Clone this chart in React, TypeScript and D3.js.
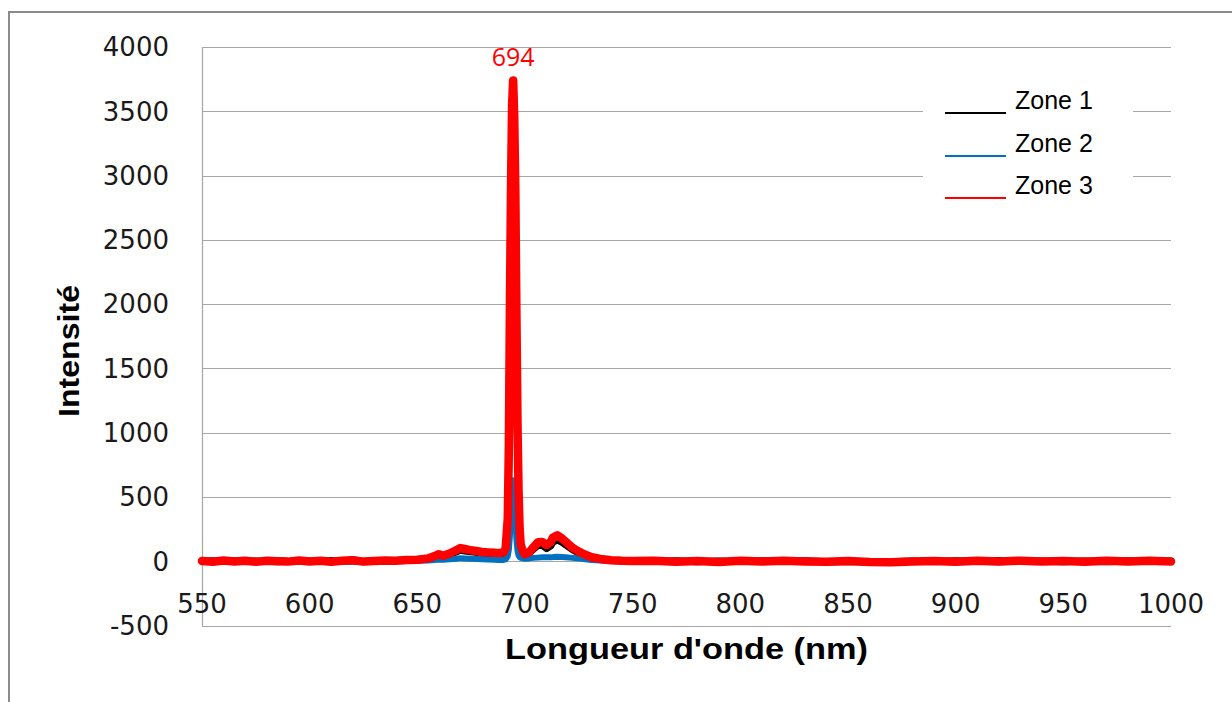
import React from "react";
import { scaleLinear, line } from "d3";

// wavelengths (nm)
const wavelengths = [
  550, 555, 560, 565, 570, 575, 580, 585, 590, 595,
  600, 605, 610, 615, 620, 625, 630, 635, 640, 645,
  650, 655, 658, 660, 662, 665, 668, 670, 672, 675,
  678, 680, 683, 686, 688, 690, 691, 692, 692.5, 693,
  693.5, 694, 694.5, 695, 695.5, 696, 696.5, 697, 697.5, 698,
  699, 700, 702, 704, 706, 708, 710, 712, 713, 715,
  717, 719, 722, 725, 728, 731, 735, 740, 745, 750,
  760, 770, 780, 790, 800, 810, 820, 830, 840, 850,
  860, 870, 880, 890, 900, 910, 920, 930, 940, 950,
  960, 970, 980, 990, 1000,
];

const zone1 = [
  0, 3, -2, 4, -3, 2, -1, 5, -2, 3,
  1, -3, 5, -2, 12, -4, 3, 2, 6, 8,
  10, 18, 32, 45, 38, 52, 72, 85, 80, 74,
  68, 62, 60, 58, 57, 60, 90, 300, 800, 1800,
  2700, 3300, 3450, 3200, 2700, 1800, 1000, 480, 220, 115,
  68, 50, 62, 95, 122, 125, 98, 120, 150, 165,
  150, 125, 90, 62, 42, 26, 15, 6, 3, 1,
  -2, 3, -5, 2, -3, 4, -1, 3, -4, -2,
  -7, -5, 2, -3, 3, -2, 5, -3, 2, -4,
  2, -3, 4, -2, 2,
];

const zone2 = [
  -5, -8, -3, -7, -2, -6, -4, -9, -3, -6,
  -4, -7, -2, -6, -3, -5, -1, -4, 0, 2,
  3, 6, 10, 14, 12, 16, 20, 24, 22, 20,
  18, 16, 14, 12, 10, 10, 14, 40, 90, 200,
  380, 560, 630, 540, 340, 170, 85, 45, 32, 26,
  22, 20, 22, 26, 28, 30, 30, 30, 32, 34,
  32, 30, 26, 22, 16, 10, 5, 2, 0, -2,
  -4, -6, -3, -7, -5, -2, -6, -4, -8, -3,
  -6, -9, -4, -7, -3, -6, -8, -4, -6, -3,
  -5, -8, -4, -6, -4,
];

const zone3 = [
  2, -4, 5, -2, 3, -5, 4, 0, -3, 6,
  -2, 4, -4, 3, 8, -3, 2, 6, 4, 10,
  12, 22, 40, 55, 42, 60, 85, 102, 95, 85,
  78, 72, 68, 65, 64, 68, 100, 330, 900, 2000,
  2900, 3550, 3740, 3450, 2900, 1950, 1100, 550, 250, 130,
  75, 55, 70, 110, 148, 150, 126, 150, 185, 202,
  180, 150, 105, 75, 50, 31, 18, 8, 4, 2,
  3, -4, 2, -6, 3, -3, 4, -2, -5, 2,
  -6, -8, -3, 2, -4, 3, -2, 4, -3, 2,
  -4, 3, -2, 4, -3,
];

const xTicks = [550, 600, 650, 700, 750, 800, 850, 900, 950, 1000];
const yTicks = [-500, 0, 500, 1000, 1500, 2000, 2500, 3000, 3500, 4000];
const peakLabel = "694";

const series = [
  { name: "Zone 1", values: zone1, color: "#000000", width: 7 },
  { name: "Zone 2", values: zone2, color: "#0070c0", width: 6 },
  { name: "Zone 3", values: zone3, color: "#ff0000", width: 8.5 },
];

export default function App() {
  const x = scaleLinear().domain([550, 1000]).range([202, 1171]);
  const y = scaleLinear().domain([-500, 4000]).range([625.5, 47]);

  const makeLine = (vals: number[]) =>
    line<number>()
      .x((d, i) => x(wavelengths[i]))
      .y((d) => y(d))(vals) as string;

  const peakIdx = zone3.indexOf(Math.max(...zone3));

  const tickFont = "'DejaVu Sans', sans-serif";

  return (
    <div style={{ position: "absolute", left: 0, top: 0 }}>
      <svg width={1232} height={702} style={{ display: "block", background: "#fff" }}>
        {/* outer frame */}
        <path d="M9,702 L9,12 L1232,12" fill="none" stroke="#8c8c8c" strokeWidth={2} />

        {/* gridlines */}
        {yTicks.map((t) => (
          <line key={t} x1={202} x2={1171} y1={Math.round(y(t)) + 0.5} y2={Math.round(y(t)) + 0.5} stroke="#a6a6a6" strokeWidth={1.2} />
        ))}
        <line x1={202.5} x2={202.5} y1={47} y2={626} stroke="#a6a6a6" strokeWidth={1.2} />

        {/* y tick labels */}
        {yTicks.map((t) => (
          <text key={t} x={169} y={y(t)} dy="0.36em" textAnchor="end" fontFamily={tickFont} fontSize={26} fill="#1a1a1a">
            {t}
          </text>
        ))}

        {/* x tick labels */}
        {xTicks.map((t) => (
          <text key={t} x={x(t)} y={613} textAnchor="middle" fontFamily={tickFont} fontSize={26} fill="#1a1a1a">
            {t}
          </text>
        ))}

        {/* legend box */}
        <rect x={923} y={85} width={210} height={130} fill="#fff" />

        {/* series */}
        {series.map((s) => (
          <path key={s.name} d={makeLine(s.values)} fill="none" stroke={s.color} strokeWidth={s.width} strokeLinejoin="round" strokeLinecap="round" />
        ))}

        {/* peak label */}
        <text x={x(wavelengths[peakIdx])} y={66} textAnchor="middle" fontFamily="'Open Sans', sans-serif" fontSize={25} fill="#ff0000">
          {peakLabel}
        </text>

        {/* legend */}
        {series.map((s, i) => (
          <g key={s.name} transform={`translate(0, ${[0, 43, 85][i]})`}>
            <line x1={945} x2={1006} y1={113} y2={113} stroke={s.color} strokeWidth={2} />
            <text x={1015} y={109} fontFamily="'Liberation Sans', Arial, sans-serif" fontSize={25} fill="#000">
              {s.name}
            </text>
          </g>
        ))}

        {/* axis titles */}
        <text x={505} y={659} textLength={363} lengthAdjust="spacingAndGlyphs" fontFamily="'Liberation Sans', Arial, sans-serif" fontWeight="bold" fontSize={29} fill="#000">
          Longueur d'onde (nm)
        </text>
        <text transform="translate(79,417) rotate(-90)" textLength={132} lengthAdjust="spacingAndGlyphs" fontFamily="'Liberation Sans', Arial, sans-serif" fontWeight="bold" fontSize={29} fill="#000">
          Intensité
        </text>
      </svg>
    </div>
  );
}
